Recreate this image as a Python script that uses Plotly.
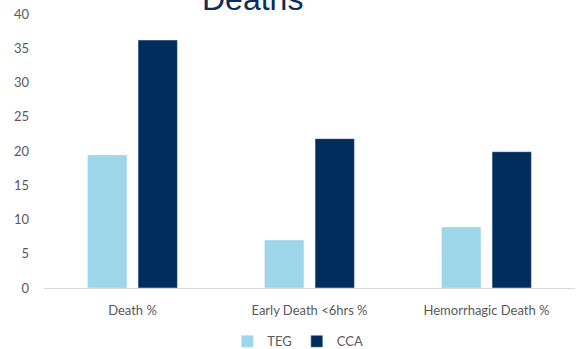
import plotly.graph_objects as go

categories = ["Death %", "Early Death <6hrs %", "Hemorrhagic Death %"]
teg = [19.4, 7.0, 8.9]
cca = [36.2, 21.8, 19.9]
yticks = [0, 5, 10, 15, 20, 25, 30, 35, 40]

fig = go.Figure()
fig.add_trace(go.Bar(name="TEG", x=categories, y=teg, marker_color="#9DD5E9"))
fig.add_trace(go.Bar(name="CCA", x=categories, y=cca, marker_color="#002C5E"))

fig.update_layout(
    width=577, height=349,
    margin=dict(l=44, r=2, t=14, b=61, autoexpand=False),
    paper_bgcolor="white", plot_bgcolor="white",
    barmode="group", bargap=0.43, bargroupgap=0.22,
    font=dict(family="Lato, Open Sans, sans-serif", size=12, color="#595959"),
    showlegend=True,
    legend=dict(orientation="h", x=0.478, xanchor="center", yref="container", y=0.022, yanchor="middle",
                font=dict(size=13, color="#595959"), itemwidth=30, traceorder="normal"),
    xaxis=dict(showline=True, linecolor="#D9D9D9", linewidth=1, ticks="", showgrid=False,
               ticklabelstandoff=10, tickfont=dict(size=13, color="#595959")),
    yaxis=dict(range=[0, 40], tickvals=yticks, showgrid=False, zeroline=False,
               showline=False, ticks="", ticklabelstandoff=14,
               tickfont=dict(size=13, color="#595959")),
    annotations=[dict(text="Deaths", xref="paper", yref="paper", x=0.393, y=0.982,
                      xanchor="center", yanchor="bottom", showarrow=False,
                      font=dict(family="Liberation Sans, Arial, sans-serif", size=32, color="#0B2D5B"))],
)

fig.write_html("out.html")
